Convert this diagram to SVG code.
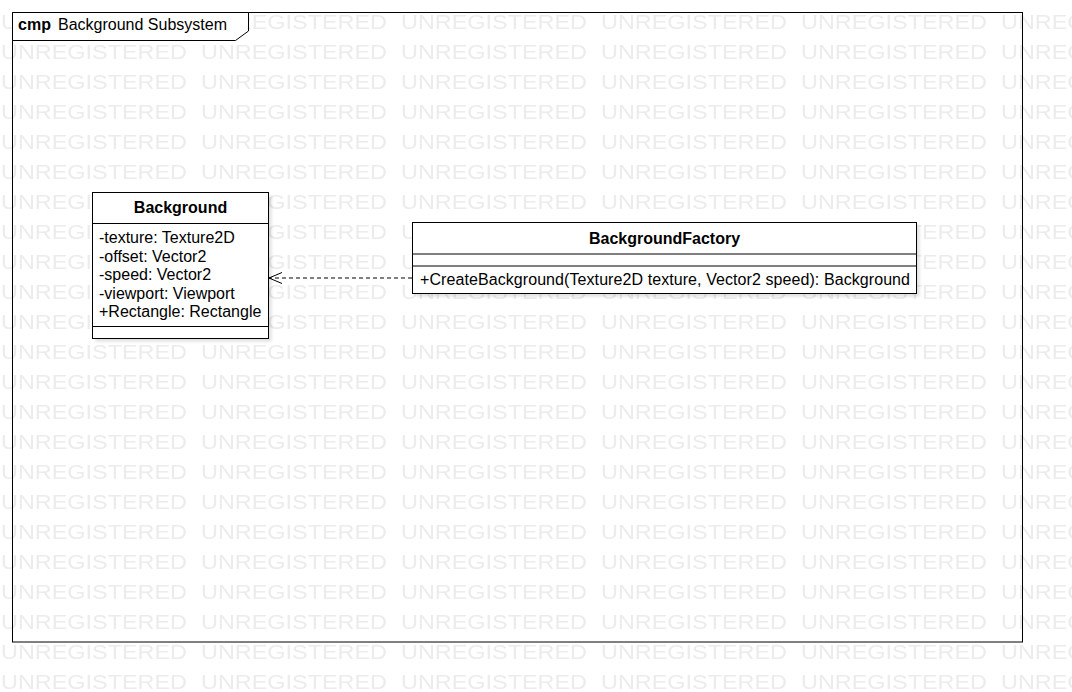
<svg xmlns="http://www.w3.org/2000/svg" width="1072" height="692" viewBox="0 0 1072 692">
<style>
text{font-family:"Liberation Sans",Arial,sans-serif;font-size:16px;fill:#000}
.b{font-weight:bold}
.wm{font-size:20px;fill:#ececec}
.box{fill:#fff;stroke:#000;stroke-width:1}
.ln{stroke:#000;stroke-width:1;fill:none}
.shadow{fill:#000;opacity:0.12;filter:url(#blur)}
</style>
<defs>
<pattern id="wmp" patternUnits="userSpaceOnUse" x="0" y="0" width="200" height="30">
<text class="wm" x="1" y="29.2" textLength="186" lengthAdjust="spacingAndGlyphs">UNREGISTERED</text>
</pattern>
<filter id="blur" x="-10%" y="-10%" width="120%" height="130%"><feGaussianBlur stdDeviation="1.5"/></filter>
<marker id="open" viewBox="0 0 16 14" refX="14" refY="7" markerWidth="16" markerHeight="14" markerUnits="userSpaceOnUse" orient="auto">
<path d="M1,1.5 L14,7 L1,12.5" fill="none" stroke="#000" stroke-width="1"/>
</marker>
</defs>
<rect width="1072" height="692" fill="#fff"/>
<rect width="1072" height="692" fill="url(#wmp)"/>
<g id="frame">
<rect x="12.5" y="12.5" width="1010" height="629.5" class="ln"/>
<polygon points="12.5,12.5 248.5,12.5 248.5,31 235.5,40.5 12.5,40.5" class="box"/>
<text x="18" y="30" class="b">cmp</text>
<text x="58" y="30">Background Subsystem</text>
</g>
<g id="Background">
<rect x="95.5" y="195.5" width="176" height="146" class="shadow"/>
<rect x="92.5" y="192.5" width="176" height="146" class="box"/>
<line x1="92.5" y1="223.5" x2="268.5" y2="223.5" class="ln"/>
<line x1="92.5" y1="326.5" x2="268.5" y2="326.5" class="ln"/>
<text x="180.5" y="213" text-anchor="middle" class="b">Background</text>
<text x="99" y="243">-texture: Texture2D</text>
<text x="99" y="261.5">-offset: Vector2</text>
<text x="99" y="280">-speed: Vector2</text>
<text x="99" y="298.5">-viewport: Viewport</text>
<text x="99" y="317">+Rectangle: Rectangle</text>
</g>
<g id="BackgroundFactory">
<rect x="415.5" y="225.5" width="504" height="71" class="shadow"/>
<rect x="412.5" y="222.5" width="504" height="71" class="box"/>
<line x1="412.5" y1="254" x2="916.5" y2="254" class="ln"/>
<line x1="412.5" y1="266" x2="916.5" y2="266" class="ln"/>
<text x="664.5" y="244" text-anchor="middle" class="b">BackgroundFactory</text>
<text x="420" y="285" textLength="490">+CreateBackground(Texture2D texture, Vector2 speed): Background</text>
</g>
<g id="connectors">
<line x1="412" y1="278" x2="269" y2="278" stroke="#000" stroke-width="1" stroke-dasharray="4,3" marker-end="url(#open)"/>
</g>
</svg>
